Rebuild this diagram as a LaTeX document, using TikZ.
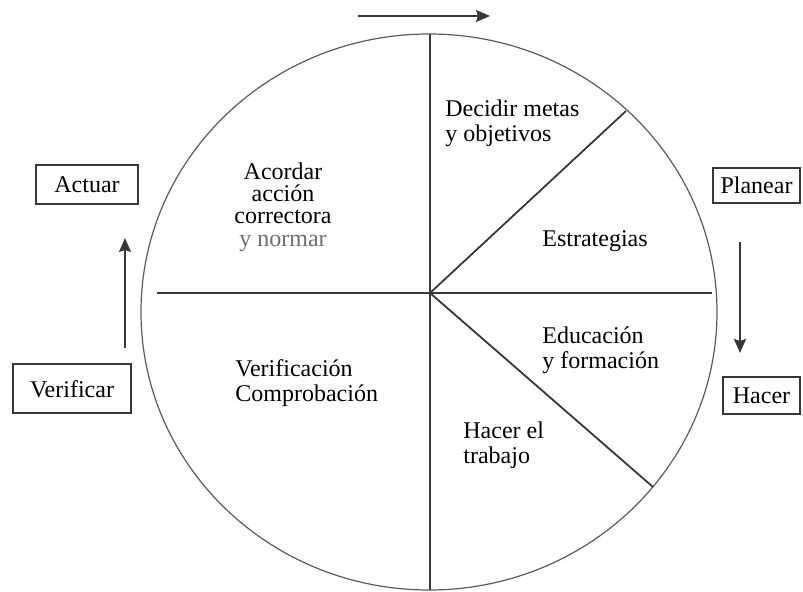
\documentclass[tikz,border=0pt]{standalone}
\usepackage{fontspec}
\setmainfont{Liberation Serif}
\definecolor{lineink}{RGB}{55, 55, 55}
\definecolor{rimink}{RGB}{90, 90, 90}
\definecolor{softink}{RGB}{110, 110, 110}
\usepackage{tikz}
\usetikzlibrary{arrows.meta, positioning}

\begin{document}
\begin{tikzpicture}[x=0.5pt, y=-0.5pt,
    stagebox/.style={draw=lineink, line width=1pt, inner sep=0pt, font=\fontsize{12}{12.5}\selectfont},
    sectortext/.style={inner sep=0pt, font=\fontsize{12}{12.5}\selectfont},
    divider/.style={lineink, line width=0.9pt},
    cyclearrow/.style={-{Stealth[length=7pt, width=6pt, inset=1pt]}, lineink, line width=0.9pt}]
  \useasboundingbox (0,0) rectangle (803,592);

  % wheel
  \draw[rimink, line width=0.6pt] (429,312) ellipse [x radius=144pt, y radius=139pt];
  \coordinate (hub) at (430,293);
  \coordinate (rimtop) at (430,34);
  \coordinate (rimbottom) at (430,590);
  \coordinate (rimleft) at (157,293);
  \coordinate (rimright) at (712,293);
  \coordinate (rimupper) at (626,111);
  \coordinate (rimlower) at (653,487);
  \draw[divider] (rimtop) -- (rimbottom);
  \draw[divider] (rimleft) -- (rimright);
  \draw[divider] (hub) -- (rimupper);
  \draw[divider] (hub) -- (rimlower);

  % sector texts
  \node[sectortext, anchor=north west, align=left] (metas) at (445,99) {Decidir metas\\y objetivos};
  \node[sectortext, anchor=base west] (estrategias) at (542,247) {Estrategias};
  \node[sectortext, anchor=north west, align=left] (educacion) at (542,326) {Educación\\y formación};
  \node[sectortext, anchor=north west, align=left] (trabajo) at (463,421) {Hacer el\\trabajo};
  \node[sectortext, anchor=north west, align=left] (verificacion) at (235,359) {Verificación\\Comprobación};
  \node[sectortext, anchor=north, align=center, font=\fontsize{12}{11.2}\selectfont] (acordar) at (283,162)
    {Acordar\\acción\\correctora\\\textcolor{softink}{y normar}};

  % stage boxes
  \node[stagebox, minimum width=51pt, minimum height=19.5pt] (actuar) at (87,185) {Actuar};
  \node[stagebox, minimum width=59pt, minimum height=24.5pt] (verificar) at (72,389) {Verificar};
  \node[stagebox, minimum width=43.5pt, minimum height=17.5pt] (planear) at (756.5,185.5) {Planear};
  \node[stagebox, minimum width=38.5pt, minimum height=18.5pt] (hacer) at (761.5,396) {Hacer};

  % direction arrows
  \coordinate (topfrom) at (358,16);
  \coordinate (topto) at (490,16);
  \coordinate (leftfrom) at (125,348);
  \coordinate (leftto) at (125,238);
  \coordinate (rightfrom) at (740,242);
  \coordinate (rightto) at (740,353);
  \draw[cyclearrow] (topfrom) -- (topto);
  \draw[cyclearrow] (leftfrom) -- (leftto);
  \draw[cyclearrow] (rightfrom) -- (rightto);
\end{tikzpicture}
\end{document}
